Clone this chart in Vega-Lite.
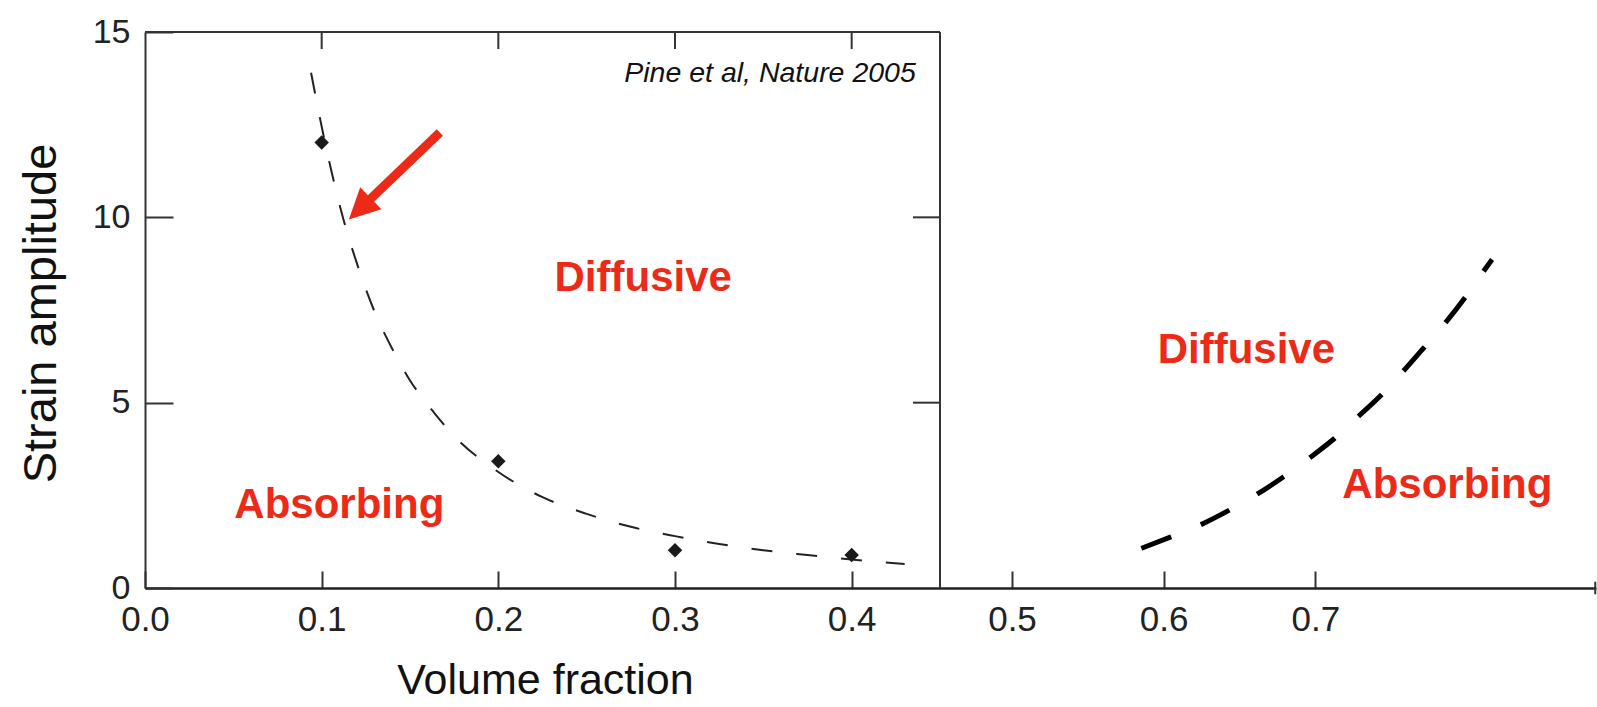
{
  "$schema": "https://vega.github.io/schema/vega-lite/v6.json",
  "width": 1451,
  "height": 556,
  "autosize": {"type": "none"},
  "padding": {"left": 145, "top": 32, "right": 1, "bottom": 119},
  "background": "white",
  "config": {"view": {"stroke": null}, "axis": {"grid": false}},
  "datasets": {
    "frame": [
      {"x": 0, "x2": 0.45, "y": 15, "y2": 15},
      {"x": 0.45, "x2": 0.45, "y": 0, "y2": 15},
      {"x": 0.1, "x2": 0.1, "y": 15, "y2": 14.54},
      {"x": 0.2, "x2": 0.2, "y": 15, "y2": 14.54},
      {"x": 0.3, "x2": 0.3, "y": 15, "y2": 14.54},
      {"x": 0.4, "x2": 0.4, "y": 15, "y2": 14.54},
      {"x": 0.4347, "x2": 0.45, "y": 5, "y2": 5},
      {"x": 0.4347, "x2": 0.45, "y": 10, "y2": 10},
      {"x": 0.8845, "x2": 0.8845, "y": -0.17, "y2": 0.17}
    ],
    "left": [
      {"x": 0.094, "y": 13.9}, {"x": 0.1, "y": 12.45}, {"x": 0.106, "y": 11.15},
      {"x": 0.112, "y": 10.0}, {"x": 0.12, "y": 8.75}, {"x": 0.13, "y": 7.45},
      {"x": 0.14, "y": 6.45}, {"x": 0.15, "y": 5.6}, {"x": 0.16, "y": 4.95},
      {"x": 0.175, "y": 4.1}, {"x": 0.2, "y": 3.13}, {"x": 0.225, "y": 2.45},
      {"x": 0.25, "y": 2.0}, {"x": 0.275, "y": 1.65}, {"x": 0.3, "y": 1.4},
      {"x": 0.325, "y": 1.19}, {"x": 0.35, "y": 1.02}, {"x": 0.375, "y": 0.89},
      {"x": 0.4, "y": 0.77}, {"x": 0.43, "y": 0.65}
    ],
    "right": [
      {"x": 0.5853, "y": 1.07}, {"x": 0.6048, "y": 1.38}, {"x": 0.6246, "y": 1.71},
      {"x": 0.6433, "y": 2.1}, {"x": 0.6616, "y": 2.53}, {"x": 0.6791, "y": 3.0},
      {"x": 0.6962, "y": 3.51}, {"x": 0.7127, "y": 4.04}, {"x": 0.7286, "y": 4.64},
      {"x": 0.744, "y": 5.23}, {"x": 0.7582, "y": 5.86}, {"x": 0.7719, "y": 6.5},
      {"x": 0.7862, "y": 7.18}, {"x": 0.7989, "y": 7.85}, {"x": 0.811, "y": 8.55},
      {"x": 0.8165, "y": 8.86}
    ],
    "points": [
      {"x": 0.1, "y": 12.02}, {"x": 0.2, "y": 3.42}, {"x": 0.3, "y": 1.02}, {"x": 0.4, "y": 0.89}
    ],
    "regions": [
      {"x": 0.282, "y": 8.0, "label": "Diffusive"},
      {"x": 0.11, "y": 1.9, "label": "Absorbing"},
      {"x": 0.6545, "y": 6.07, "label": "Diffusive"},
      {"x": 0.787, "y": 2.42, "label": "Absorbing"}
    ],
    "cite": [{"x": 0.4363, "y": 13.65, "label": "Pine et al, Nature 2005"}],
    "arrow": [{"x": 0.1669, "y": 12.29, "x2": 0.1245, "y2": 10.35, "hx": 0.1216, "hy": 10.23}]
  },
  "layer": [
    {
      "data": {"name": "frame"},
      "mark": {"type": "rule", "color": "#333", "strokeWidth": 2},
      "encoding": {
        "x": {
          "field": "x", "type": "quantitative",
          "scale": {"domain": [0, 0.45, 0.5, 0.885], "range": [0, 795, 867, 1451], "nice": false, "zero": false, "clamp": false},
          "axis": {
            "values": [0, 0.1, 0.2, 0.3, 0.4, 0.5, 0.6, 0.7],
            "format": ".1f",
            "labelFont": "Liberation Sans", "labelFontSize": 35, "labelColor": "#222",
            "labelBaseline": "top", "labelPadding": 31, "labelFlush": false, "labelOverlap": false,
            "tickSize": -17, "tickWidth": 2, "tickColor": "#333",
            "domainWidth": 2.5, "domainColor": "#222",
            "title": "Volume fraction",
            "titleFont": "Liberation Sans", "titleFontSize": 43, "titleFontWeight": "normal", "titleColor": "#111",
            "titleX": 400, "titleY": 105, "titleAlign": "center", "titleBaseline": "alphabetic", "titleAnchor": null
          }
        },
        "x2": {"field": "x2"},
        "y": {
          "field": "y", "type": "quantitative",
          "scale": {"domain": [0, 15], "nice": false, "zero": false},
          "axis": {
            "values": [0, 5, 10, 15],
            "labelFont": "Liberation Sans", "labelFontSize": 34, "labelColor": "#222",
            "labelBaseline": "middle", "labelPadding": 43, "labelFlush": false, "labelOverlap": false,
            "tickSize": -28, "tickWidth": 2, "tickColor": "#333",
            "domainWidth": 2, "domainColor": "#333",
            "title": "Strain amplitude",
            "titleFont": "Liberation Sans", "titleFontSize": 47, "titleFontWeight": "normal", "titleColor": "#111",
            "titleX": -104, "titleY": 281, "titleAngle": 270, "titleAlign": "center", "titleBaseline": "middle", "titleAnchor": null
          }
        },
        "y2": {"field": "y2"}
      }
    },
    {
      "data": {"name": "left"},
      "mark": {"type": "line", "color": "#222", "strokeWidth": 2, "strokeDash": [21, 24], "interpolate": "monotone"},
      "encoding": {
        "x": {"field": "x", "type": "quantitative"},
        "y": {"field": "y", "type": "quantitative"}
      }
    },
    {
      "data": {"name": "right"},
      "mark": {"type": "line", "color": "#000", "strokeWidth": 5, "strokeDash": [32, 32], "interpolate": "monotone"},
      "encoding": {
        "x": {"field": "x", "type": "quantitative"},
        "y": {"field": "y", "type": "quantitative"}
      }
    },
    {
      "data": {"name": "points"},
      "mark": {"type": "point", "shape": "diamond", "filled": true, "size": 210, "color": "#1a1a1a", "opacity": 1},
      "encoding": {
        "x": {"field": "x", "type": "quantitative"},
        "y": {"field": "y", "type": "quantitative"}
      }
    },
    {
      "data": {"name": "regions"},
      "mark": {"type": "text", "font": "Liberation Sans", "fontSize": 42, "fontWeight": "bold", "color": "#ec2a17", "align": "center", "baseline": "alphabetic"},
      "encoding": {
        "x": {"field": "x", "type": "quantitative"},
        "y": {"field": "y", "type": "quantitative"},
        "text": {"field": "label"}
      }
    },
    {
      "data": {"name": "cite"},
      "mark": {"type": "text", "font": "Liberation Sans", "fontSize": 28.5, "fontStyle": "italic", "color": "#111", "align": "right", "baseline": "alphabetic"},
      "encoding": {
        "x": {"field": "x", "type": "quantitative"},
        "y": {"field": "y", "type": "quantitative"},
        "text": {"field": "label"}
      }
    },
    {
      "data": {"name": "arrow"},
      "mark": {"type": "rule", "color": "#ec2a17", "strokeWidth": 9, "strokeCap": "butt"},
      "encoding": {
        "x": {"field": "x", "type": "quantitative"},
        "y": {"field": "y", "type": "quantitative"},
        "x2": {"field": "x2"},
        "y2": {"field": "y2"}
      }
    },
    {
      "data": {"name": "arrow"},
      "mark": {"type": "point", "shape": "M0,-1L1,1L-1,1Z", "filled": true, "size": 930, "color": "#ec2a17", "opacity": 1, "angle": 226},
      "encoding": {
        "x": {"field": "hx", "type": "quantitative"},
        "y": {"field": "hy", "type": "quantitative"}
      }
    }
  ]
}
